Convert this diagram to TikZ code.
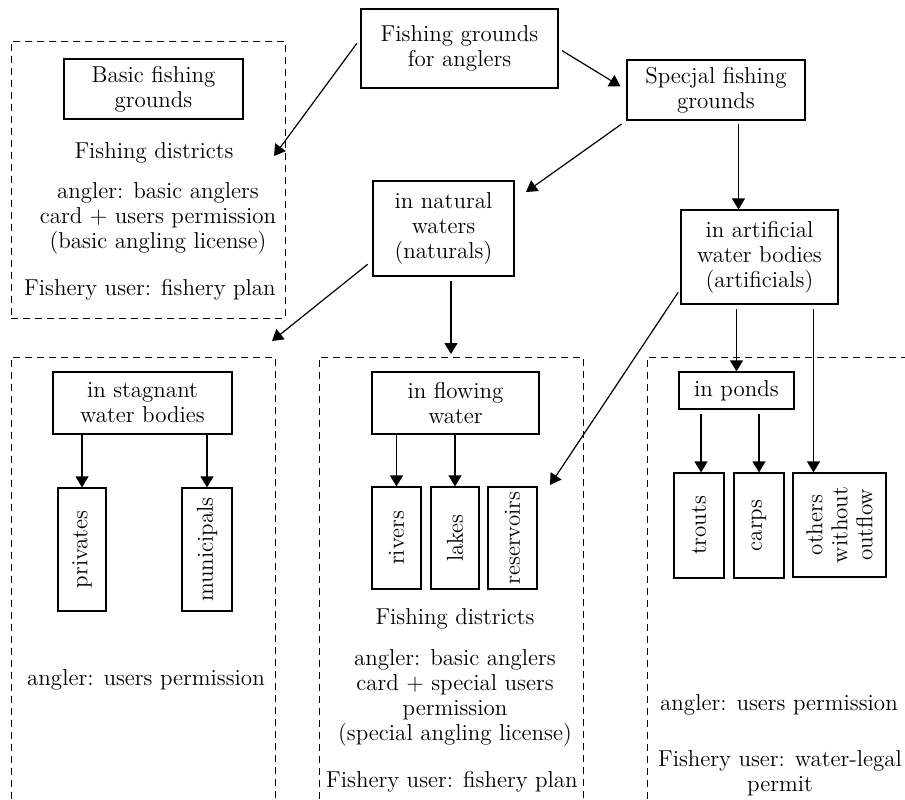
\documentclass[tikz,border=0pt]{standalone}
\usepackage{tikz}
\usetikzlibrary{arrows.meta, positioning, calc}

\begin{document}
\begin{tikzpicture}[
    x=0.5pt, y=-0.5pt,
    every node/.style={font=\fontsize{11.5}{12.5}\selectfont, align=center, inner sep=0pt},
    box/.style={rectangle, draw, line width=0.6pt},
    vbox/.style={rectangle, draw, line width=0.6pt, rotate=90},
    area/.style={dash pattern=on 3.5pt off 2.5pt, line width=0.5pt},
    arrow/.style={-{Triangle[length=5.5pt,width=6.5pt]}, line width=0.6pt}
]
    \useasboundingbox (0,0) rectangle (905,799);

    % Top level
    \node[box, minimum width=98.5pt, minimum height=39.5pt] (fga) at (459.5,48.5) {Fishing grounds\\for anglers};
    \node[box, minimum width=89pt, minimum height=30pt] (spec) at (716,90) {Specjal fishing\\grounds};
    \node[box, minimum width=70.5pt, minimum height=47.5pt] (nat) at (443.5,228.5) {in natural\\waters\\(naturals)};
    \node[box, minimum width=78.5pt, minimum height=47pt] (art) at (759.5,257) {in artificial\\water bodies\\(artificials)};

    % Basic fishing grounds (dashed area)
    \node[area, draw, minimum width=137pt, minimum height=138.5pt] (basicarea) at (148,179.5) {};
    \node[box, minimum width=89.5pt, minimum height=30pt] (basic) at (153.5,89) {Basic fishing\\grounds};
    \node (basicdist) at (154,153) {Fishing districts};
    \node (basicangler) at (158,218) {angler: basic anglers\\card + users permission\\(basic angling license)};
    \node (basicuser) at (150,290) {Fishery user: fishery plan};

    % Lower dashed areas (open at the bottom)
    \draw[area] (11,799) -- (11,357) -- (275,357) -- (275,799);
    \draw[area] (319,799) -- (319,357) -- (583,357) -- (583,799);
    \draw[area] (647,799) -- (647,357) -- (905,357);

    % Stagnant waters
    \node[box, minimum width=89.5pt, minimum height=31pt] (stag) at (142.5,403) {in stagnant\\water bodies};
    \node[vbox, minimum width=61.5pt, minimum height=24pt] (priv) at (82,549.5) {privates};
    \node[vbox, minimum width=61.5pt, minimum height=25pt] (muni) at (207,549.5) {municipals};
    \node (staguser) at (146,680) {angler: users permission};

    % Flowing waters
    \node[box, minimum width=83.5pt, minimum height=31pt] (flow) at (455.5,403) {in flowing\\water};
    \node[vbox, minimum width=51pt, minimum height=24.5pt] (riv) at (396.5,538) {rivers};
    \node[vbox, minimum width=51pt, minimum height=24pt] (lak) at (455,538) {lakes};
    \node[vbox, minimum width=51pt, minimum height=24.5pt] (res) at (512.5,538) {reservoirs};
    \node (flowdist) at (455,619) {Fishing districts};
    \node (flowangler) at (455,698) {angler: basic anglers\\card + special users\\permission\\(special angling license)};
    \node (flowuser) at (452,782) {Fishery user: fishery plan};

    % Ponds
    \node[box, minimum width=57.5pt, minimum height=18.5pt] (ponds) at (736.5,390.5) {in ponds};
    \node[vbox, minimum width=52.5pt, minimum height=25pt] (tro) at (699,525.5) {trouts};
    \node[vbox, minimum width=52.5pt, minimum height=25pt] (car) at (759,525.5) {carps};
    \node[vbox, minimum width=52pt, minimum height=46.5pt] (oth) at (839.5,525) {others\\without\\outflow};
    \node (pondangler) at (779,705) {angler: users permission};
    \node (ponduser) at (780,773) {Fishery user: water-legal\\permit};

    % Free ends of the slanted arrows
    \coordinate (basicin) at (274,156);
    \coordinate (natin) at (526,192);
    \coordinate (stagin) at (272,341);
    \coordinate (flowin) at (451,354);
    \coordinate (resin) at (550,485);
    \coordinate (artin) at ([xshift=-10.5pt]art.north);
    \coordinate (othin) at ([xshift=-13pt]oth.east);

    % Arrows - top level
    \draw[arrow, shorten <=3pt] ([yshift=5pt]fga.west) -- (basicin);
    \draw[arrow, shorten <=2pt, shorten >=3.5pt] (fga.east) -- (spec.west);
    \draw[arrow, shorten <=3pt] (spec.south west) -- (natin);
    \draw[arrow, shorten <=1.5pt] (artin |- spec.south) -- (artin);

    % Arrows - natural and artificial waters
    \draw[arrow, shorten <=3pt] ([yshift=-16pt]nat.west) -- (stagin);
    \draw[arrow, shorten <=2pt] (nat.south -| flowin) -- (flowin);
    \draw[arrow, shorten <=2pt] ([yshift=-16pt]art.west) -- (resin);
    \draw[arrow, shorten <=2pt] (art.south -| ponds.north) -- (ponds.north);
    \draw[arrow, shorten <=2pt] (othin |- art.south) -- (othin);

    % Arrows - inside the areas
    \draw[arrow] (stag.south -| priv.east) -- (priv.east);
    \draw[arrow] (stag.south -| muni.east) -- (muni.east);
    \draw[arrow] (flow.south -| riv.east) -- (riv.east);
    \draw[arrow] (flow.south -| lak.east) -- (lak.east);
    \draw[arrow, shorten <=2pt] ([xshift=1pt]ponds.south -| tro.east) -- ([xshift=1pt]tro.east);
    \draw[arrow, shorten <=2pt] (ponds.south -| car.east) -- (car.east);
\end{tikzpicture}
\end{document}
